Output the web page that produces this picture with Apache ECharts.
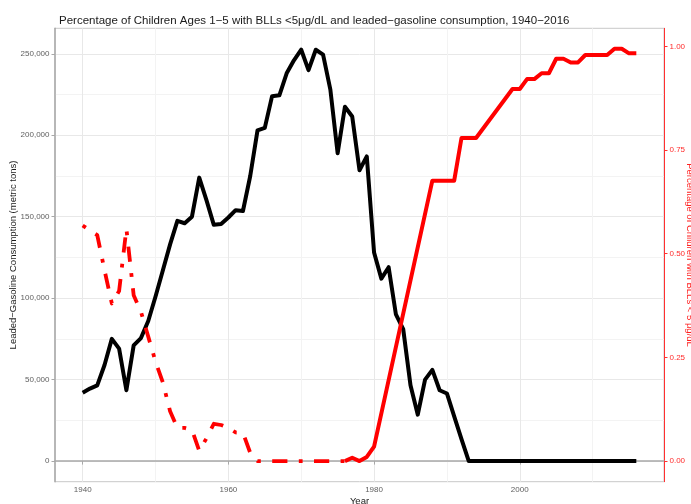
<!DOCTYPE html>
<html>
<head>
<meta charset="utf-8">
<script src="https://cdn.jsdelivr.net/npm/echarts@6/dist/echarts.min.js"></script>
<style>
html, body { margin: 0; padding: 0; background: #fff; }
#chart { width: 691px; height: 504px; }
</style>
</head>
<body>
<div id="chart"></div>
<script>
// leaded gasoline consumption (metric tons)
const gasYears = [1940, 1941, 1942, 1943, 1944, 1945, 1946, 1947, 1948, 1949,
  1950, 1951, 1952, 1953, 1954, 1955, 1956, 1957, 1958, 1959,
  1960, 1961, 1962, 1963, 1964, 1965, 1966, 1967, 1968, 1969,
  1970, 1971, 1972, 1973, 1974, 1975, 1976, 1977, 1978, 1979,
  1980, 1981, 1982, 1983, 1984, 1985, 1986, 1987, 1988, 1989,
  1990, 1991, 1992, 1993, 1994, 1995, 1996, 1997, 1998, 1999,
  2000, 2001, 2002, 2003, 2004, 2005, 2006, 2007, 2008, 2009,
  2010, 2011, 2012, 2013, 2014, 2015, 2016];
const gasConsumption = [42000, 44500, 46500, 59000, 75000, 69000, 43500, 71000, 75500, 86000,
  101000, 117000, 133000, 147500, 146000, 150000, 174000, 160000, 145000, 145500,
  149500, 154000, 153500, 175000, 203000, 204500, 224000, 224500, 238000, 246000,
  252500, 240000, 252500, 249500, 228000, 189000, 217500, 211500, 178500, 187000,
  128000, 112000, 119000, 90000, 81000, 46500, 28500, 50000, 56000, 43500,
  41500, 27500, 13500, 0, 0, 0, 0, 0, 0, 0,
  0, 0, 0, 0, 0, 0, 0, 0, 0, 0,
  0, 0, 0, 0, 0, 0, 0];

// share of children with BLLs < 5 ug/dL, older estimates (dash-dot part)
const bllEarlyYears = [1940, 1941, 1942, 1943, 1944, 1945, 1946, 1947, 1948, 1949,
  1950, 1951, 1952, 1953, 1954, 1955, 1956, 1957, 1958, 1959,
  1960, 1961, 1962, 1963, 1964, 1965, 1966, 1967, 1968, 1969,
  1970, 1971, 1972, 1973, 1974, 1975, 1976];
const bllEarlyShare = [0.568, 0.556, 0.545, 0.46, 0.38, 0.41, 0.56, 0.40, 0.36, 0.30,
  0.24, 0.19, 0.12, 0.08, 0.08, 0.075, 0.025, 0.055, 0.09, 0.087,
  0.08, 0.069, 0.068, 0.02, 0, 0, 0, 0, 0, 0,
  0, 0, 0, 0, 0, 0, 0];

// NHANES part (solid line)
const bllYears = [1976, 1977, 1978, 1979, 1980, 1988, 1991, 1992, 1994, 1999,
  2000, 2001, 2002, 2003, 2004, 2005, 2006, 2007, 2008, 2009,
  2012, 2013, 2014, 2015, 2016];
const bllShare = [0, 0.008, 0, 0.01, 0.035, 0.676, 0.676, 0.779, 0.779, 0.897,
  0.897, 0.921, 0.921, 0.935, 0.935, 0.97, 0.97, 0.961, 0.961, 0.979,
  0.979, 0.994, 0.994, 0.983, 0.983];

const xMajor = [1940, 1960, 1980, 2000];
const xMinor = [1950, 1970, 1990, 2010];
const leftMajor = [0, 50000, 100000, 150000, 200000, 250000];
const leftMinor = [25000, 75000, 125000, 175000, 225000];
const rightTicks = [0, 0.25, 0.5, 0.75, 1];

const FONT = '"Liberation Sans", Arial, sans-serif';
const xRange = [1936.2, 2019.8];
const leftRange = [-12650, 265650];
const rightRange = [-0.0497, 1.0434];

function pairs(xs, ys) {
  return xs.map((x, i) => [x, ys[i]]);
}

const chart = echarts.init(document.getElementById('chart'), null, { renderer: 'canvas' });

const option = {
  animation: false,
  title: {
    text: 'Percentage of Children Ages 1\u22125 with BLLs <5\u03bcg/dL and leaded\u2212gasoline consumption, 1940\u22122016',
    left: 54,
    top: 10,
    textStyle: { fontFamily: FONT, fontSize: 11.5, fontWeight: 'normal', color: '#1a1a1a' }
  },
  grid: {
    left: 55, right: 27, top: 28.3, bottom: 22.3,
    show: true, borderColor: '#c8c8c8', borderWidth: 1,
    outerBoundsMode: 'none'
  },
  xAxis: [
    {
      type: 'value', min: xRange[0], max: xRange[1],
      name: 'Year', nameLocation: 'middle', nameGap: 15, nameMoveOverlap: false,
      nameTextStyle: { fontFamily: FONT, fontSize: 9.5, color: '#1a1a1a' },
      axisLine: { show: true, lineStyle: { color: '#a8a8a8', width: 1.5 } },
      axisTick: { show: true, length: 3.5, customValues: xMajor, lineStyle: { color: '#a8a8a8' } },
      axisLabel: { customValues: xMajor, margin: 4, fontFamily: FONT, fontSize: 8, color: '#606060',
        formatter: (v) => String(v) },
      splitLine: { show: true, lineStyle: { color: '#e8e8e8', width: 1 } }
    },
    {
      // helper axis for minor vertical grid lines
      type: 'value', min: xRange[0], max: xRange[1], position: 'bottom',
      axisLine: { show: false },
      axisTick: { show: false, customValues: xMinor },
      axisLabel: { show: false, customValues: xMinor },
      splitLine: { show: true, lineStyle: { color: '#f3f3f3', width: 1 } }
    }
  ],
  yAxis: [
    {
      type: 'value', min: leftRange[0], max: leftRange[1], position: 'left',
      name: 'Leaded\u2212Gasoline Consumption (metric tons)', nameLocation: 'middle', nameGap: 37, nameMoveOverlap: false,
      nameTextStyle: { fontFamily: FONT, fontSize: 9.5, color: '#1a1a1a' },
      axisLine: { show: true, lineStyle: { color: '#a8a8a8', width: 1.5 } },
      axisTick: { show: true, length: 3.5, customValues: leftMajor, lineStyle: { color: '#a8a8a8' } },
      axisLabel: { customValues: leftMajor, margin: 5.5, fontFamily: FONT, fontSize: 8, color: '#606060',
        formatter: (v) => v.toLocaleString('en-US') },
      splitLine: { show: true, lineStyle: { color: '#e8e8e8', width: 1 } }
    },
    {
      type: 'value', min: rightRange[0], max: rightRange[1], position: 'right',
      name: 'Percentage of Children with BLLs < 5 \u03bcg/dL', nameLocation: 'middle', nameGap: 21, nameRotate: -90,
      nameMoveOverlap: false,
      nameTextStyle: { fontFamily: FONT, fontSize: 9.5, color: '#ff2020' },
      axisLine: { show: true, lineStyle: { color: '#ff3030', width: 1 } },
      axisTick: { show: true, length: 3.5, customValues: rightTicks, lineStyle: { color: '#ff3030' } },
      axisLabel: { customValues: rightTicks, margin: 5.5, fontFamily: FONT, fontSize: 8, color: '#ff2a2a',
        formatter: (v) => v.toFixed(2) },
      splitLine: { show: false }
    },
    {
      // helper axis for minor horizontal grid lines
      type: 'value', min: leftRange[0], max: leftRange[1], position: 'left',
      axisLine: { show: false },
      axisTick: { show: false, customValues: leftMinor },
      axisLabel: { show: false, customValues: leftMinor },
      splitLine: { show: true, lineStyle: { color: '#f3f3f3', width: 1 } }
    }
  ],
  series: [
    {
      name: 'Leaded gasoline', type: 'line', xAxisIndex: 0, yAxisIndex: 0,
      data: pairs(gasYears, gasConsumption),
      showSymbol: false, symbol: 'none',
      lineStyle: { color: '#000', width: 4, join: 'round', cap: 'butt' },
      emphasis: { disabled: true }
    },
    {
      name: 'BLL early', type: 'line', xAxisIndex: 0, yAxisIndex: 1,
      data: pairs(bllEarlyYears, bllEarlyShare),
      showSymbol: false, symbol: 'none',
      lineStyle: { color: '#ff0000', width: 3.8, type: [3.8, 11.4, 15.2, 11.4], join: 'round', cap: 'butt' },
      emphasis: { disabled: true }
    },
    {
      name: 'BLL NHANES', type: 'line', xAxisIndex: 0, yAxisIndex: 1,
      data: pairs(bllYears, bllShare),
      showSymbol: false, symbol: 'none',
      lineStyle: { color: '#ff0000', width: 4, join: 'round', cap: 'butt' },
      emphasis: { disabled: true }
    }
  ]
};

chart.setOption(option);
</script>
</body>
</html>
